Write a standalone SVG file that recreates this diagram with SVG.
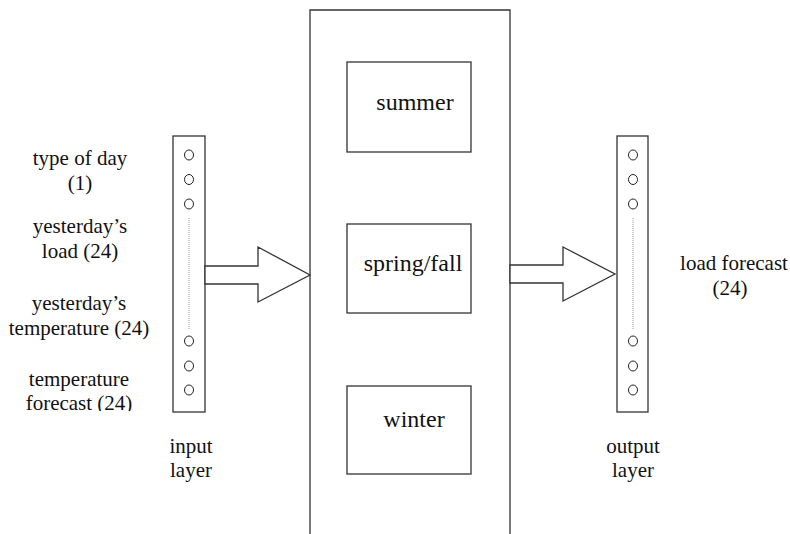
<svg xmlns="http://www.w3.org/2000/svg" width="790" height="534" viewBox="0 0 790 534">
<style>
.ln{fill:#fff;stroke:#333;stroke-width:1.3}
.nd{fill:#fff;stroke:#222;stroke-width:1}
.dt{stroke:#999;stroke-width:1;stroke-dasharray:1 1}
text{font-size:21px;fill:#111;text-anchor:middle}
.bx{font-size:24px}
</style>
<defs>
<clipPath id="clipL"><rect x="0" y="0" width="172" height="411"/></clipPath>
</defs>
<rect width="790" height="534" fill="#fff"/>
<g font-family="'Liberation Serif', 'Times New Roman', 'DejaVu Serif', serif">
<g id="classifier">
<path class="ln" d="M310,534 V10 H510 V534"/>
</g>
<g id="summer">
<rect class="ln" x="347" y="62" width="124" height="90"/>
<text class="bx" x="415" y="110">summer</text>
</g>
<g id="springfall">
<rect class="ln" x="347" y="224" width="124" height="89"/>
<text class="bx" x="413" y="271">spring/fall</text>
</g>
<g id="winter">
<rect class="ln" x="347" y="386" width="124" height="88"/>
<text class="bx" x="414" y="427">winter</text>
</g>
<g id="input-layer">
<rect class="ln" x="173" y="136" width="32" height="276"/>
<ellipse class="nd" cx="189" cy="155" rx="4.5" ry="5"/>
<ellipse class="nd" cx="189" cy="179.5" rx="4.5" ry="5"/>
<ellipse class="nd" cx="189" cy="204" rx="4.5" ry="5"/>
<line class="dt" x1="189" y1="218" x2="189" y2="330"/>
<ellipse class="nd" cx="189" cy="341" rx="4.5" ry="5"/>
<ellipse class="nd" cx="189" cy="366" rx="4.5" ry="5"/>
<ellipse class="nd" cx="189" cy="390" rx="4.5" ry="5"/>
<text x="191" y="453">input</text>
<text x="191" y="477">layer</text>
</g>
<g id="output-layer">
<rect class="ln" x="617" y="136" width="31" height="276"/>
<ellipse class="nd" cx="633" cy="155" rx="4.5" ry="5"/>
<ellipse class="nd" cx="633" cy="179.5" rx="4.5" ry="5"/>
<ellipse class="nd" cx="633" cy="204" rx="4.5" ry="5"/>
<line class="dt" x1="633" y1="218" x2="633" y2="330"/>
<ellipse class="nd" cx="633" cy="341" rx="4.5" ry="5"/>
<ellipse class="nd" cx="633" cy="366" rx="4.5" ry="5"/>
<ellipse class="nd" cx="633" cy="390" rx="4.5" ry="5"/>
<text x="633" y="453">output</text>
<text x="633" y="477">layer</text>
</g>
<g id="input-labels" clip-path="url(#clipL)">
<text x="80" y="165">type of day</text>
<text x="80" y="190">(1)</text>
<text x="80" y="233">yesterday’s</text>
<text x="80" y="258">load (24)</text>
<text x="79" y="310">yesterday’s</text>
<text x="79" y="335">temperature (24)</text>
<text x="79" y="386">temperature</text>
<text x="79" y="410">forecast (24)</text>
</g>
<g id="output-label">
<text x="734" y="270">load forecast</text>
<text x="730" y="295">(24)</text>
</g>
<g id="connectors">
<polygon class="ln" points="205,266 258,266 258,247 310,275 258,302 258,284 205,284"/>
<polygon class="ln" points="510,265 563,265 563,247 615,274 563,301 563,283 510,283"/>
</g>
</g>
</svg>
